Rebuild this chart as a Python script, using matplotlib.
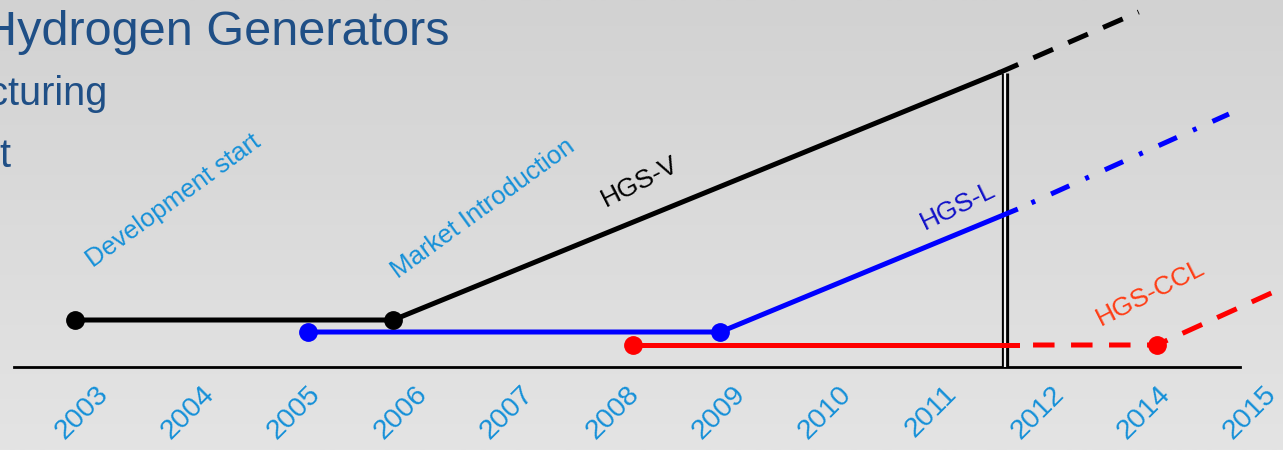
import numpy as np
import matplotlib.pyplot as plt
from matplotlib.colors import LinearSegmentedColormap

plt.rcParams['font.family'] = ['Liberation Sans', 'DejaVu Sans']

# timeline positions (index of the year label) and level above the baseline
years = ['2003', '2004', '2005', '2006', '2007', '2008',
         '2009', '2010', '2011', '2012', '2014', '2015']

hgsv_x = [-0.07, 2.93, 8.63]
hgsv_y = [4.7, 4.7, 29.4]
hgsv_fut_x = [8.63, 9.95]
hgsv_fut_y = [29.4, 35.5]

hgsl_x = [2.13, 6.01, 8.79]
hgsl_y = [3.5, 3.5, 15.7]
hgsl_fut_x = [8.79, 10.8]
hgsl_fut_y = [15.7, 25.3]

ccl_x = [5.19, 8.8]
ccl_y = [2.2, 2.2]
ccl_fut_x = [8.8, 10.12, 11.47]
ccl_fut_y = [2.2, 2.2, 8.7]

milestone_x = 8.69
milestone_top = 29.4

blue_txt = '#1590d8'

fig = plt.figure(figsize=(12.83, 4.5), dpi=100)
ax = fig.add_axes([0, 0, 1, 1])
xlim = (-0.772, 11.309)
ylim = (-8.3, 36.7)

# soft grey slide background
grad = np.linspace(0, 1, 256).reshape(-1, 1)
bg = LinearSegmentedColormap.from_list('bg', ['#e4e4e4', '#d2d2d2'])
ax.imshow(grad, cmap=bg, origin='lower', aspect='auto',
          extent=(*xlim, *ylim), zorder=0)

ax.set_xlim(*xlim)
ax.set_ylim(*ylim)

for s in ['top', 'left', 'right']:
    ax.spines[s].set_visible(False)
ax.spines['bottom'].set_position(('data', 0))
ax.spines['bottom'].set_bounds(-0.64, 10.9)
ax.spines['bottom'].set_linewidth(2.0)
ax.set_yticks([])
ax.set_xticks(range(len(years)), years, rotation=45, fontsize=20.5, color=blue_txt)
ax.tick_params(axis='x', length=0, pad=10)

# milestone marker (double vertical line)
ax.plot([milestone_x, milestone_x], [0, milestone_top], color='black', lw=5.2,
        solid_capstyle='butt', zorder=3)
ax.plot([milestone_x, milestone_x], [0, milestone_top], color='#f0f0f0', lw=1.6,
        solid_capstyle='butt', zorder=3)

lw = 3.6
dash = (0, (4.3, 3.3))
ax.plot(hgsv_x, hgsv_y, color='black', lw=lw, zorder=4)
ax.plot(hgsv_fut_x, hgsv_fut_y, color='black', lw=lw, ls=dash, zorder=4)
ax.plot(hgsv_x[:2], hgsv_y[:2], 'o', color='black', ms=12.5, zorder=5)

ax.plot(hgsl_x, hgsl_y, color='#0000ff', lw=lw, zorder=4)
ax.plot(hgsl_fut_x, hgsl_fut_y, color='#0000ff', lw=lw,
        ls=(4, (4, 3.5, 0.8, 3.5)), zorder=4)
ax.plot(hgsl_x[:2], hgsl_y[:2], 'o', color='#0000ff', ms=12.5, zorder=5)

ax.plot(ccl_x, ccl_y, color='#ff0000', lw=lw, zorder=4)
ax.plot(ccl_fut_x, ccl_fut_y, color='#ff0000', lw=lw, ls=(4.3, (4.3, 3.3)), zorder=4)
ax.plot([ccl_x[0], ccl_fut_x[1]], [ccl_y[0], ccl_fut_y[1]], 'o', color='#ff0000',
        ms=12.5, zorder=5)

ax.text(0.86, 16.6, 'Development start', rotation=36, fontsize=18.5,
        color=blue_txt, ha='center', va='center')
ax.text(3.78, 15.8, 'Market Introduction', rotation=36, fontsize=18.5,
        color=blue_txt, ha='center', va='center')
ax.text(5.25, 18.5, 'HGS-V', rotation=27, fontsize=19, color='black',
        ha='center', va='center')
ax.text(8.25, 16.1, 'HGS-L', rotation=26, fontsize=19, color='#1010c8',
        ha='center', va='center')
ax.text(10.06, 7.4, 'HGS-CCL', rotation=27, fontsize=19, color='#ff3c14',
        ha='center', va='center')

# slide heading fragments
title_col = '#1f4f86'
fig.text(449 / 1283, 1 - 45 / 450, 'Hydrogen Generators', fontsize=35,
         color=title_col, ha='right', va='baseline')
fig.text(108 / 1283, 1 - 105 / 450, 'Manufacturing', fontsize=28.5,
         color=title_col, ha='right', va='baseline')
fig.text(12 / 1283, 1 - 167 / 450, 'Market', fontsize=28.5,
         color=title_col, ha='right', va='baseline')

fig.savefig('out.png', dpi=100)
